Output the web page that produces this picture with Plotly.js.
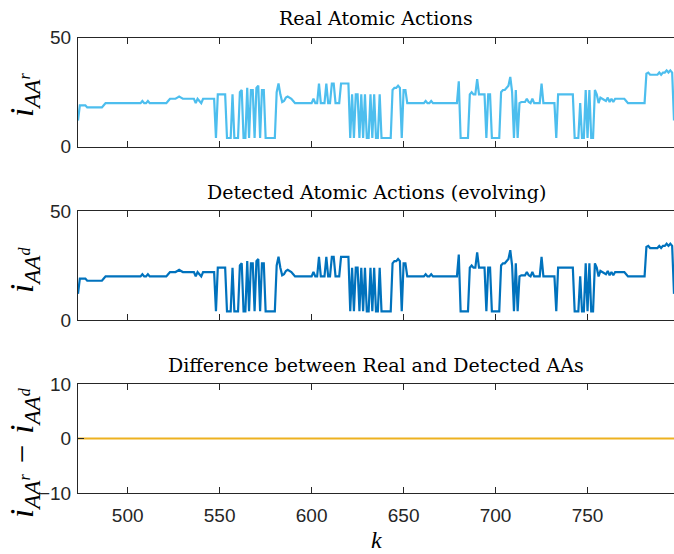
<!DOCTYPE html>
<html>
<head>
<meta charset="utf-8">
<script src="https://cdn.plot.ly/plotly-3.0.1.min.js"></script>
<style>html,body{margin:0;padding:0;background:#fff;}#chart{width:674px;height:554px;}</style>
</head>
<body>
<div id="chart"></div>
<script>
// sample index k (first sample and count)
const kStart = 473;
// Real atomic action index (k = 473 ... 797)
const realAA = [
  12, 19, 19, 19, 19, 18, 18, 18, 18,
  18, 18, 18, 18, 18, 19, 20, 20, 20, 20,
  20, 20, 20, 20, 20, 20, 20, 20, 20, 20,
  20, 20, 20, 20, 20, 20, 21, 20, 20, 21,
  20, 20, 20, 20, 20, 20, 20, 20, 20, 20,
  21, 22, 22, 22, 22, 22.5, 23, 22.5, 22, 22,
  22, 22, 22, 22, 22, 20, 22, 21, 20, 22,
  22, 22, 22, 22, 22, 22, 4, 24, 24, 24,
  24, 24, 4, 4, 4, 24, 4, 4, 4, 25,
  26, 4, 4, 27, 4, 26, 26, 4, 27, 28,
  4, 26, 26, 4, 4, 4, 4, 4, 4, 25,
  29, 24, 20.5, 21, 22.5, 23, 22.5, 22, 21, 20,
  20, 20, 20, 20, 20, 20, 20, 20, 20, 22,
  20, 20, 29, 20, 20, 20, 29, 20, 20, 29,
  29, 20, 20, 20, 29, 29, 29, 29, 29, 4,
  24, 4, 24, 24, 4, 24, 4, 24, 4, 4,
  24, 4, 24, 4, 4, 24, 4, 4, 4, 4,
  4, 4, 26, 27, 27, 28, 27, 4, 26, 26,
  20, 20, 20, 20, 20, 20, 20, 20, 20, 20,
  21, 20, 20, 21, 20, 20, 20, 20, 20, 20,
  20, 20, 20, 20, 20, 20, 20, 20, 30, 4,
  4, 4, 4, 4, 24, 25, 24, 24, 31, 24,
  24, 24, 24, 4, 24, 24, 4, 4, 4, 4,
  4, 25, 26, 26, 27, 28, 32, 25, 4, 26,
  4, 20, 20.5, 20.5, 20.5, 22, 20.5, 20, 22, 20,
  20, 20, 20, 29, 20, 20, 20, 20, 20, 20,
  20, 4, 24, 24, 24, 24, 24, 24, 24, 24,
  24, 4, 4, 4, 20, 4, 4, 26, 4, 26,
  4, 4, 26, 24, 20, 22.5, 22, 21.5, 21, 22.5,
  20.5, 22, 20.5, 22, 22, 22, 22, 22, 22, 21,
  20, 20, 20, 20, 20, 20, 20, 20, 20, 20,
  33.5, 34, 33, 33, 33, 33, 33, 34, 33, 34,
  34, 35, 34, 35, 34, 12
];
// Detected atomic action index (middle panel) – identical to the real one in the picture
const detectedAA = realAA.slice();

const kValues = realAA.map((_, i) => kStart + i);
const diffAA = realAA.map((v, i) => v - detectedAA[i]);

const titles = ['Real Atomic Actions', 'Detected Atomic Actions (evolving)', 'Difference between Real and Detected AAs'];
const yLabels = [
  '<i>i</i><sub><i>AA<sup>r</sup></i></sub>',
  '<i>i</i><sub><i>AA<sup>d</sup></i></sub>',
  '<i>i</i><sub><i>AA<sup>r</sup></i></sub>\u2004\u2212\u2004<i>i</i><sub><i>AA<sup>d</sup></i></sub>'
];
const xTicks = [500, 550, 600, 650, 700, 750];
const yTicksTop = [0, 50];
const yTicksBottom = [-10, 0, 10];

const colors = ['#4DBEEE', '#0072BD', '#EDB120'];
const axCol = '#262626';

function xa(anchor, labels) {
  return {
    anchor: anchor, range: [kStart, kStart + realAA.length - 1],
    tickvals: xTicks, ticktext: xTicks.map(String), showticklabels: labels,
    ticks: 'inside', ticklen: 6, tickcolor: axCol, tickwidth: 1,
    showline: true, linecolor: axCol, linewidth: 1, mirror: 'ticks',
    showgrid: false, zeroline: false, ticklabelstandoff: 5,
    tickfont: {family: 'Liberation Sans, Arial, sans-serif', size: 19, color: axCol}
  };
}
function ya(domain, range, ticks) {
  return {
    domain: domain, range: range, tickvals: ticks,
    ticks: 'inside', ticklen: 6, tickcolor: axCol, tickwidth: 1,
    showline: true, linecolor: axCol, linewidth: 1, mirror: false,
    showgrid: false, zeroline: false, ticklabelstandoff: 2,
    tickfont: {family: 'Liberation Sans, Arial, sans-serif', size: 19, color: axCol}
  };
}

const traces = [
  {x: kValues, y: realAA, xaxis: 'x', yaxis: 'y', mode: 'lines', line: {color: colors[0], width: 2.2}},
  {x: kValues, y: detectedAA, xaxis: 'x2', yaxis: 'y2', mode: 'lines', line: {color: colors[1], width: 2.2}},
  {x: kValues, y: diffAA, xaxis: 'x3', yaxis: 'y3', mode: 'lines', line: {color: colors[2], width: 2.2}}
];

const H = 554, L = 78, W = 596;
const py = p => 1 - p / H;
const px = p => (p - L) / W;
const titleFont = {family: 'DejaVu Serif, serif', size: 19, color: '#000'};
const labFont = {family: 'Liberation Serif, Times New Roman, serif', size: 33, color: '#000'};

const annotations = [
  {text: titles[0], x: 0.5, y: py(18), xref: 'paper', yref: 'paper', xanchor: 'center', yanchor: 'middle', showarrow: false, font: titleFont},
  {text: titles[1], x: 0.5, y: py(192), xref: 'paper', yref: 'paper', xanchor: 'center', yanchor: 'middle', showarrow: false, font: titleFont},
  {text: titles[2], x: 0.5, y: py(365), xref: 'paper', yref: 'paper', xanchor: 'center', yanchor: 'middle', showarrow: false, font: titleFont},
  {text: yLabels[0], x: px(24), y: py(95), xref: 'paper', yref: 'paper', xanchor: 'center', yanchor: 'middle', textangle: -90, showarrow: false, font: labFont},
  {text: yLabels[1], x: px(24), y: py(270), xref: 'paper', yref: 'paper', xanchor: 'center', yanchor: 'middle', textangle: -90, showarrow: false, font: labFont},
  {text: yLabels[2], x: px(24), y: py(453), xref: 'paper', yref: 'paper', xanchor: 'center', yanchor: 'middle', textangle: -90, showarrow: false, font: labFont},
  {text: '<i>k</i>', x: 0.5, y: py(540), xref: 'paper', yref: 'paper', xanchor: 'center', yanchor: 'middle', showarrow: false, font: {family: 'Liberation Serif, serif', size: 24, color: '#000'}}
];

const layout = {
  width: 674, height: 554,
  margin: {l: L, r: 0, t: 0, b: 0},
  paper_bgcolor: '#fff', plot_bgcolor: '#fff',
  showlegend: false,
  xaxis: xa('y', false), xaxis2: xa('y2', false), xaxis3: xa('y3', true),
  yaxis: ya([py(146.7), py(37.7)], [0, 50], yTicksTop),
  yaxis2: ya([py(320), py(211)], [0, 50], yTicksTop),
  yaxis3: ya([py(493), py(384)], [-10, 10], yTicksBottom),
  annotations: annotations
};

Plotly.newPlot('chart', traces, layout, {displayModeBar: false, staticPlot: true});
</script>
</body>
</html>
